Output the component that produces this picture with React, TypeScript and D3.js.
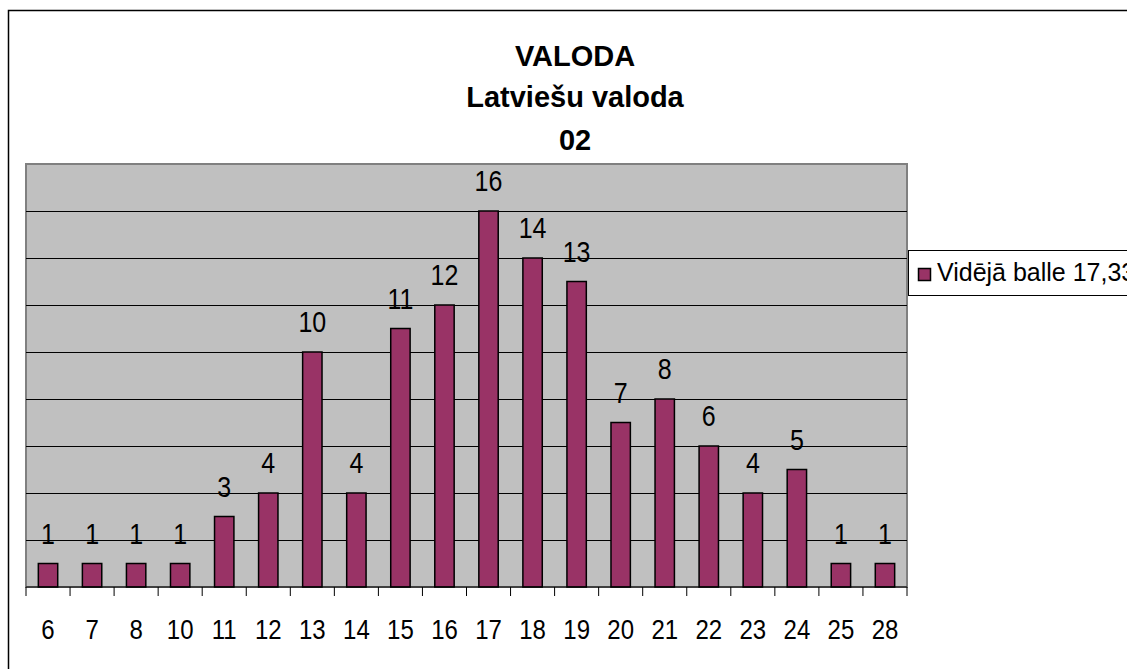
import React from "react";
import * as d3 from "d3";

const categories = ["6", "7", "8", "10", "11", "12", "13", "14", "15", "16", "17", "18", "19", "20", "21", "22", "23", "24", "25", "28"];
const values = [1, 1, 1, 1, 3, 4, 10, 4, 11, 12, 16, 14, 13, 7, 8, 6, 4, 5, 1, 1];
const titleLines = ["VALODA", "Latviešu valoda", "02"];
const legendLabel = "Vidējā balle 17,33";
const gridTicks = [2, 4, 6, 8, 10, 12, 14, 16];

const W = 1127;
const H = 669;
const plot = { left: 26, right: 907, top: 164, bottom: 587 };
const FONT = "'Liberation Sans', Arial, sans-serif";

function T({ x, y, size, sy = 1, anchor = "middle", weight = "normal", children }: any) {
  return (
    <text transform={`translate(${x},${y}) scale(1,${sy})`} textAnchor={anchor} fontSize={size} fontWeight={weight} fill="#000">
      {children}
    </text>
  );
}

export default function App() {
  const x = d3.scaleBand<string>().domain(categories).range([plot.left, plot.right]).paddingInner(0).paddingOuter(0);
  const y = d3.scaleLinear().domain([0, 18]).range([plot.bottom, plot.top]);
  const bw = x.bandwidth() * 0.44;
  const boundaries = categories.map((c) => x(c)!).concat([plot.right]);

  return (
    <svg width={W} height={H} style={{ position: "absolute", left: 0, top: 0, background: "#fff" }} fontFamily={FONT}>
      <rect x={8.5} y={10.5} width={W + 20} height={H + 20} fill="#fff" stroke="#000" strokeWidth={1.5} />
      {titleLines.map((t, i) => (
        <T key={i} x={575} y={[66, 107, 150][i]} size={29} weight="bold" sy={1.03}>
          {t}
        </T>
      ))}
      <rect x={plot.left} y={plot.top} width={plot.right - plot.left} height={plot.bottom - plot.top} fill="#C0C0C0" stroke="#808080" strokeWidth={2} />
      {gridTicks.map((v) => (
        <line key={v} x1={plot.left} x2={plot.right} y1={Math.round(y(v)) + 0.5} y2={Math.round(y(v)) + 0.5} stroke="#000" strokeWidth={1} />
      ))}
      {categories.map((c, i) => {
        const cx = x(c)! + x.bandwidth() / 2;
        const top = y(values[i]);
        return (
          <g key={c}>
            <rect x={cx - bw / 2} y={top} width={bw} height={plot.bottom - top} fill="#993366" stroke="#000" strokeWidth={1.5} />
            <T x={cx} y={top - 20} size={25} sy={1.18}>
              {values[i]}
            </T>
            <T x={cx} y={639} size={24} sy={1.14}>
              {c}
            </T>
          </g>
        );
      })}
      <line x1={plot.left} x2={plot.right} y1={plot.bottom} y2={plot.bottom} stroke="#000" strokeWidth={1} />
      {boundaries.map((bx, i) => (
        <line key={i} x1={bx} x2={bx} y1={plot.bottom} y2={plot.bottom + 9} stroke="#000" strokeWidth={1} />
      ))}
      <rect x={908.5} y={250.5} width={300} height={45} fill="#fff" stroke="#000" strokeWidth={1} />
      <rect x={918.5} y={268.5} width={12} height={12} fill="#993366" stroke="#000" strokeWidth={1.5} />
      <T x={937} y={281} size={25} sy={1.06} anchor="start">
        {legendLabel}
      </T>
    </svg>
  );
}
